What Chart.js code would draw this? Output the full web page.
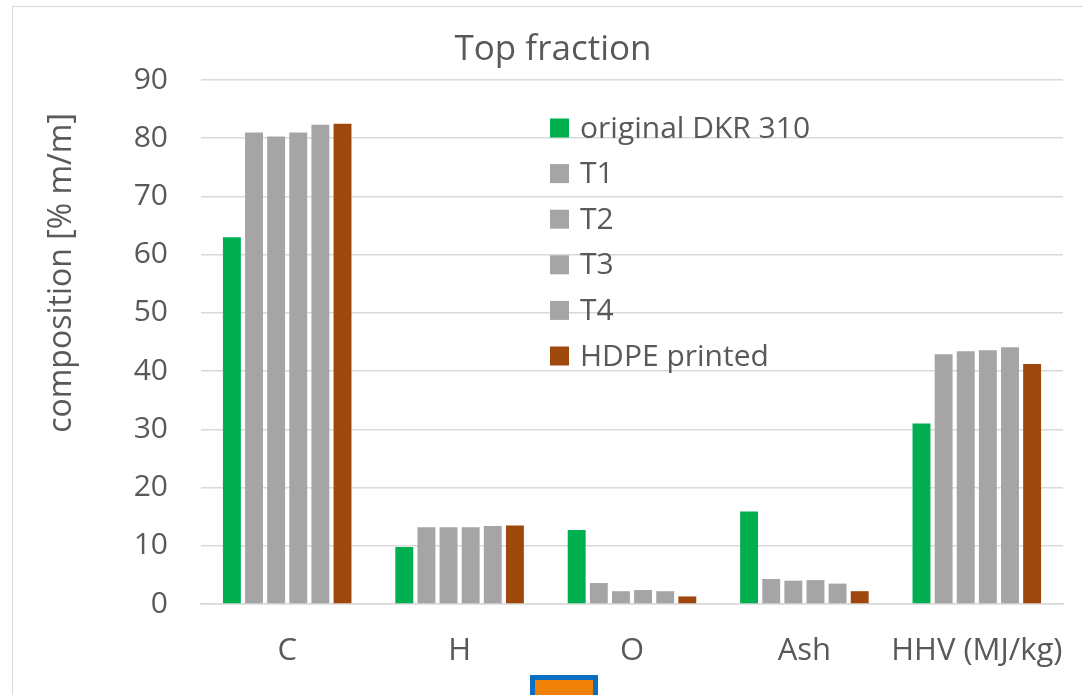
<!DOCTYPE html>
<html>
<head>
<meta charset="utf-8">
<script src="https://cdn.jsdelivr.net/npm/chart.js@4.4.1/dist/chart.umd.min.js"></script>
<style>
  html, body { margin: 0; padding: 0; background: #ffffff; overflow: hidden; }
  #wrap { position: relative; width: 1083px; height: 695px; }
  #frame { position: absolute; left: 12px; top: 6px; width: 1200px; height: 800px;
           border: 1.5px solid #d9d9d9; box-sizing: border-box; pointer-events: none; }
  #handle { position: absolute; left: 530px; top: 675px; width: 68px; height: 40px;
            background: #f0820a; border: 5px solid #0a6fc2; box-sizing: border-box; }
  canvas { position: absolute; left: 0; top: 0; }
</style>
</head>
<body>
<div id="wrap">
  <div id="frame"></div>
  <canvas id="chart" width="1083" height="695"></canvas>
  <div id="handle"></div>
</div>
<script>
// Composition of the top fraction
const categories = ['C', 'H', 'O', 'Ash', 'HHV (MJ/kg)'];
const originalDKR = [63.0, 9.8, 12.7, 15.9, 31.0];
const t1 = [81.0, 13.2, 3.6, 4.3, 42.9];
const t2 = [80.3, 13.2, 2.2, 4.0, 43.4];
const t3 = [81.0, 13.2, 2.4, 4.1, 43.6];
const t4 = [82.3, 13.4, 2.2, 3.5, 44.1];
const hdpePrinted = [82.5, 13.5, 1.3, 2.2, 41.2];
const seriesNames = ['original DKR 310', 'T1', 'T2', 'T3', 'T4', 'HDPE printed'];
const yTicks = [0, 10, 20, 30, 40, 50, 60, 70, 80, 90];

const GREEN = '#00b050', GREY = '#a5a5a5', BROWN = '#9e480e';
const TEXT = '#595959';
const FONT = "'Open Sans', sans-serif";

const seriesValues = [originalDKR, t1, t2, t3, t4, hdpePrinted];
const seriesColors = [GREEN, GREY, GREY, GREY, GREY, BROWN];

// Title, centred on the chart frame
const frameTitle = {
  id: 'frameTitle',
  afterDraw(chart) {
    const ctx = chart.ctx;
    ctx.save();
    ctx.font = '35px ' + FONT;
    ctx.fillStyle = TEXT;
    ctx.textAlign = 'center';
    ctx.textBaseline = 'middle';
    ctx.fillText('Top fraction', 553, 50);
    ctx.restore();
  }
};

// Legend drawn inside the plot area
const insideLegend = {
  id: 'insideLegend',
  afterDraw(chart) {
    const ctx = chart.ctx;
    ctx.save();
    ctx.font = '30px ' + FONT;
    ctx.textBaseline = 'middle';
    ctx.textAlign = 'left';
    chart.data.datasets.forEach((ds, i) => {
      const cy = 128 + i * 45.6;
      ctx.fillStyle = ds.backgroundColor;
      ctx.fillRect(550, cy - 9.5, 19, 19);
      ctx.fillStyle = TEXT;
      ctx.fillText(ds.label, 580, cy + 1);
    });
    ctx.restore();
  }
};

// Vertical axis caption
const yCaption = {
  id: 'yCaption',
  afterDraw(chart) {
    const ctx = chart.ctx;
    ctx.save();
    ctx.translate(62, 273);
    ctx.rotate(-Math.PI / 2);
    ctx.font = '32px ' + FONT;
    ctx.fillStyle = TEXT;
    ctx.textAlign = 'center';
    ctx.textBaseline = 'middle';
    ctx.fillText('composition [% m/m]', 0, 0);
    ctx.restore();
  }
};

new Chart(document.getElementById('chart'), {
  type: 'bar',
  data: {
    labels: categories,
    datasets: seriesNames.map((name, i) => ({
      label: name,
      data: seriesValues[i],
      backgroundColor: seriesColors[i],
      borderWidth: 0,
      categoryPercentage: 0.77,
      barPercentage: 0.81
    }))
  },
  options: {
    responsive: false,
    animation: false,
    layout: { padding: { left: 0, right: 20, top: 80, bottom: 0 } },
    plugins: {
      legend: { display: false },
      tooltip: { enabled: false },
      title: { display: false }
    },
    scales: {
      x: {
        grid: { display: false, drawTicks: false },
        border: { display: true, color: '#d9d9d9', width: 1.5 },
        ticks: { color: TEXT, font: { family: FONT, size: 31 }, padding: 29,
                 maxRotation: 0, autoSkip: false },
        afterFit(scale) {
          scale.height = 91;
          scale.paddingLeft = 0;
          scale.paddingRight = 0;
        }
      },
      y: {
        min: 0,
        max: 90,
        afterBuildTicks(scale) { scale.ticks = yTicks.map(v => ({ value: v })); },
        grid: { color: '#d9d9d9', lineWidth: 1.5, drawTicks: false },
        border: { display: false },
        ticks: { color: TEXT, font: { family: FONT, size: 30 }, padding: 33 },
        afterFit(scale) {
          scale.width = 201;
          scale.paddingTop = 0;
          scale.paddingBottom = 0;
        }
      }
    }
  },
  plugins: [frameTitle, insideLegend, yCaption]
});
</script>
</body>
</html>
